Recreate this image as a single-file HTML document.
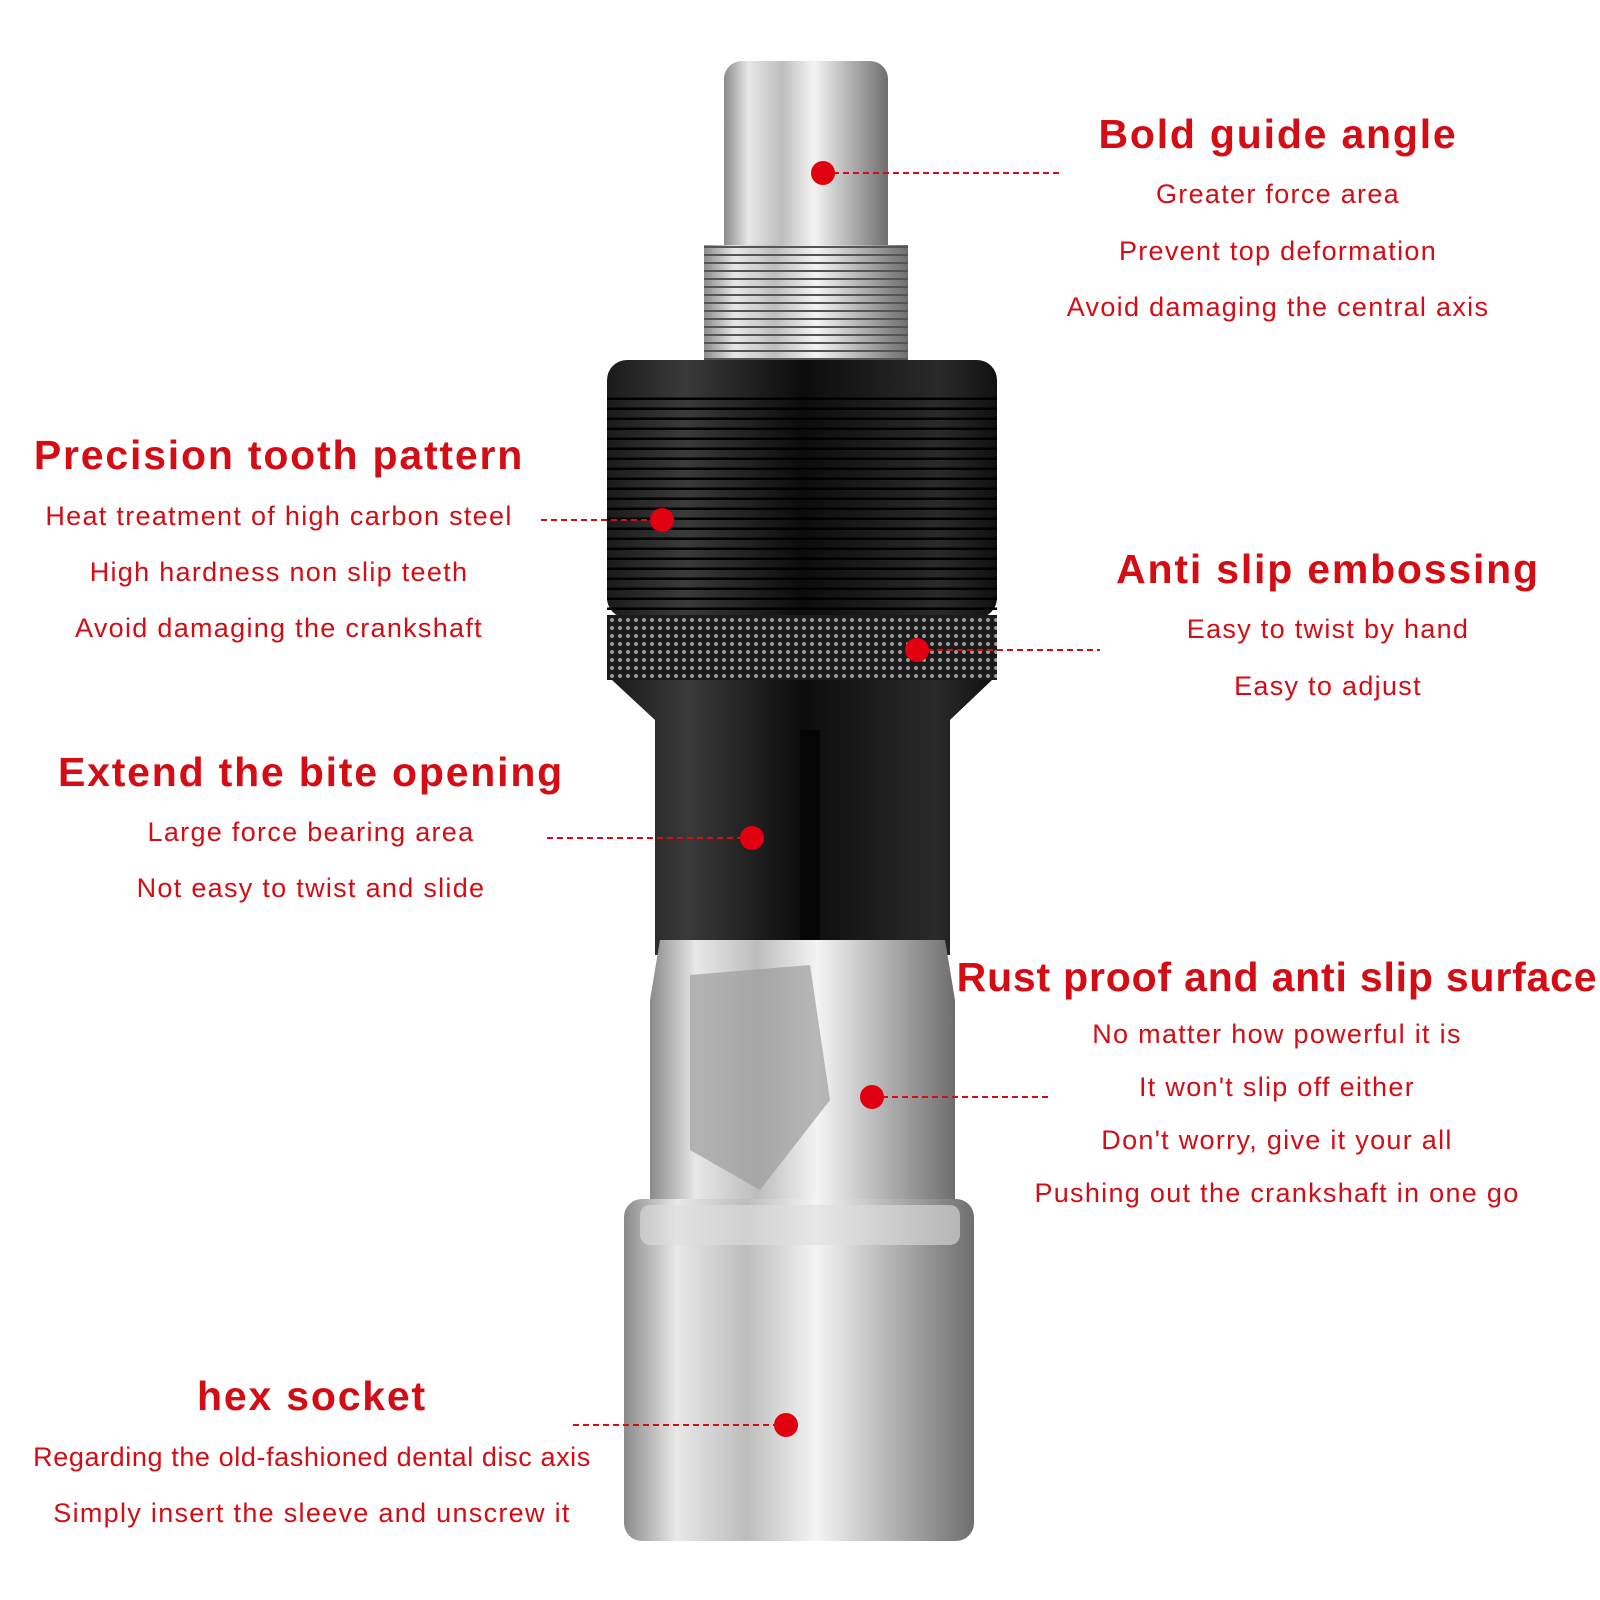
<!DOCTYPE html>
<html><head><meta charset="utf-8"><style>
html,body{margin:0;padding:0;background:#fff;}
svg{display:block}
.t{font-family:"Liberation Sans",sans-serif;font-weight:bold;fill:#d40c14;font-size:41px;letter-spacing:1.8px}
.s{font-family:"Liberation Sans",sans-serif;fill:#d40c14;font-size:27px;letter-spacing:1.3px}
</style></head><body>
<svg width="1600" height="1600" viewBox="0 0 1600 1600">
<defs>
<linearGradient id="silver" x1="0" x2="1" y1="0" y2="0">
<stop offset="0" stop-color="#8a8a8a"/><stop offset="0.15" stop-color="#e8e8e8"/><stop offset="0.35" stop-color="#bdbdbd"/><stop offset="0.55" stop-color="#f4f4f4"/><stop offset="0.8" stop-color="#a9a9a9"/><stop offset="1" stop-color="#6e6e6e"/></linearGradient>
<linearGradient id="black" x1="0" x2="1" y1="0" y2="0">
<stop offset="0" stop-color="#1a1a1a"/><stop offset="0.2" stop-color="#3a3a3a"/><stop offset="0.5" stop-color="#0c0c0c"/><stop offset="0.85" stop-color="#2a2a2a"/><stop offset="1" stop-color="#111"/></linearGradient>
<pattern id="thr" width="10" height="8" patternUnits="userSpaceOnUse"><line x1="0" y1="7" x2="10" y2="7" stroke="#555" stroke-width="2"/></pattern>
<pattern id="thr2" width="10" height="10" patternUnits="userSpaceOnUse"><line x1="0" y1="9" x2="10" y2="9" stroke="#000" stroke-width="3"/></pattern>
<pattern id="knurl" width="8" height="8" patternUnits="userSpaceOnUse"><rect width="8" height="8" fill="#1a1a1a"/><circle cx="4" cy="4" r="2" fill="#9a9a9a"/></pattern>
</defs>
<rect x="724" y="61" width="164" height="210" rx="18" fill="url(#silver)"/>
<rect x="704" y="245" width="204" height="145" fill="url(#silver)"/>
<rect x="704" y="245" width="204" height="145" fill="url(#thr)"/>
<rect x="607" y="360" width="390" height="258" rx="20" fill="url(#black)"/>
<rect x="607" y="395" width="390" height="220" fill="url(#thr2)"/>
<rect x="607" y="615" width="390" height="65" fill="url(#knurl)"/>
<path d="M612 680 L992 680 L950 720 L950 955 L655 955 L655 720 Z" fill="url(#black)"/>
<rect x="800" y="730" width="20" height="210" fill="#050505"/>
<path d="M660 940 L945 940 L955 1000 L955 1200 L650 1200 L650 1000 Z" fill="url(#silver)"/>
<path d="M690 975 L810 965 L830 1100 L760 1190 L690 1150 Z" fill="#9c9c9c" opacity="0.7"/>
<rect x="624" y="1199" width="350" height="342" rx="18" fill="url(#silver)"/>
<rect x="640" y="1205" width="320" height="40" rx="10" fill="#ddd" opacity="0.6"/>
<g stroke="#d40c14" stroke-width="2" stroke-dasharray="6,4">
<line x1="823" y1="173" x2="1061" y2="173"/>
<line x1="541" y1="520" x2="662" y2="520"/>
<line x1="917" y1="650" x2="1100" y2="650"/>
<line x1="547" y1="838" x2="752" y2="838"/>
<line x1="872" y1="1097" x2="1048" y2="1097"/>
<line x1="573" y1="1425" x2="786" y2="1425"/>
</g>
<g fill="#e00010">
<circle cx="823" cy="173" r="12"/><circle cx="662" cy="520" r="12"/><circle cx="917" cy="650" r="12"/>
<circle cx="752" cy="838" r="12"/><circle cx="872" cy="1097" r="12"/><circle cx="786" cy="1425" r="12"/>
</g>
<g text-anchor="middle">
<text class="t" x="1278" y="148">Bold guide angle</text>
<text class="s" x="1278" y="203">Greater force area</text>
<text class="s" x="1278" y="260">Prevent top deformation</text>
<text class="s" x="1278" y="316">Avoid damaging the central axis</text>

<text class="t" x="279" y="469">Precision tooth pattern</text>
<text class="s" x="279" y="525">Heat treatment of high carbon steel</text>
<text class="s" x="279" y="581">High hardness non slip teeth</text>
<text class="s" x="279" y="637">Avoid damaging the crankshaft</text>

<text class="t" x="1328" y="583">Anti slip embossing</text>
<text class="s" x="1328" y="638">Easy to twist by hand</text>
<text class="s" x="1328" y="695">Easy to adjust</text>

<text class="t" x="311" y="786">Extend the bite opening</text>
<text class="s" x="311" y="841">Large force bearing area</text>
<text class="s" x="311" y="897">Not easy to twist and slide</text>

<text class="t" x="1277" y="991" style="letter-spacing:0.8px">Rust proof and anti slip surface</text>
<text class="s" x="1277" y="1043">No matter how powerful it is</text>
<text class="s" x="1277" y="1096">It won't slip off either</text>
<text class="s" x="1277" y="1149">Don't worry, give it your all</text>
<text class="s" x="1277" y="1202">Pushing out the crankshaft in one go</text>

<text class="t" x="312" y="1410">hex socket</text>
<text class="s" x="312" y="1466" style="letter-spacing:0.6px">Regarding the old-fashioned dental disc axis</text>
<text class="s" x="312" y="1522">Simply insert the sleeve and unscrew it</text>
</g>
</svg>
</body></html>
